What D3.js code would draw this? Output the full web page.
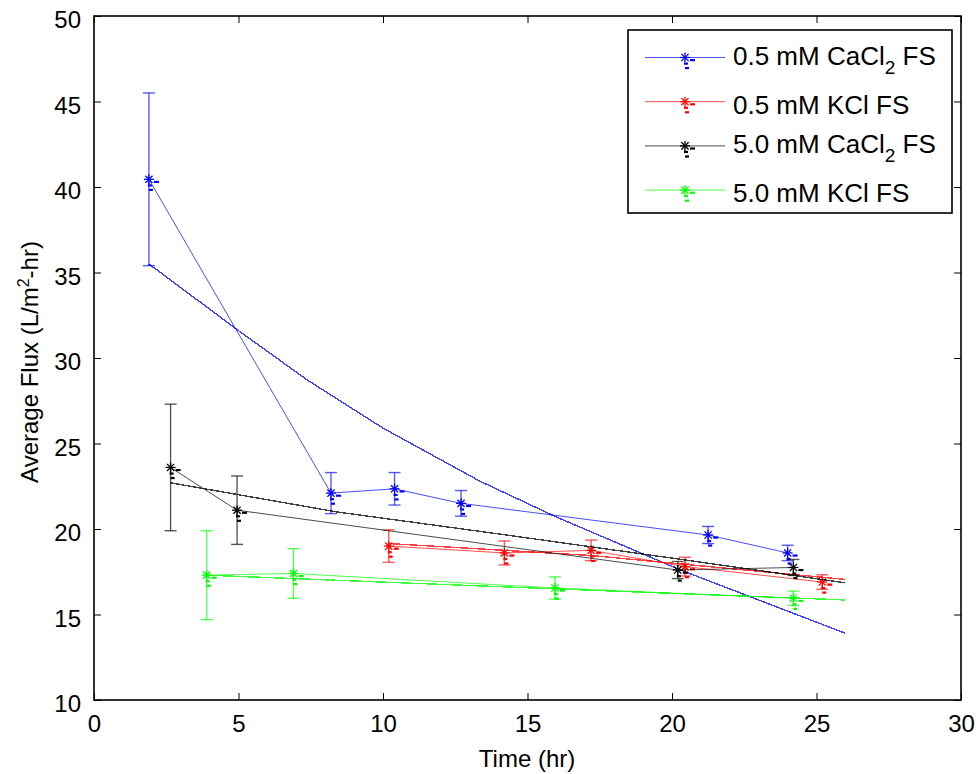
<!DOCTYPE html>
<html>
<head>
<meta charset="utf-8">
<script src="https://d3js.org/d3.v7.min.js"></script>
<style>
    body { margin: 0; background: #fff; }
    text { font-family: "Liberation Sans", Arial, sans-serif; fill: #000; }
</style>
</head>
<body>
<script>
    // data
    var labels = [["0.5 mM CaCl", "2", " FS"], ["0.5 mM KCl FS"], ["5.0 mM CaCl", "2", " FS"], ["5.0 mM KCl FS"]],
        colors = ["#0000ff", "#ff0000", "#000000", "#00ff00"];

    var xTicks = [0, 5, 10, 15, 20, 25, 30],
        yTicks = [10, 15, 20, 25, 30, 35, 40, 45, 50];

    // 0.5 mM CaCl2
    var timeCa05 = [1.9, 8.2, 10.4, 12.7, 21.25, 24.0],
        fluxCa05 = [40.45, 22.1, 22.35, 21.5, 19.65, 18.6],
        errCa05  = [5.05, 1.2, 0.95, 0.75, 0.5, 0.45],
        fitTimeCa05 = [1.9, 5, 7.35, 10, 13.35, 16, 20.3, 26],
        fitFluxCa05 = [35.5, 31.6, 28.75, 25.9, 22.8, 20.7, 17.6, 13.9];

    // 0.5 mM KCl
    var timeK05 = [10.2, 14.2, 17.2, 20.45, 25.2],
        fluxK05 = [19.0, 18.6, 18.75, 17.8, 16.9],
        errK05  = [0.95, 0.7, 0.6, 0.55, 0.42],
        fitTimeK05 = [10.2, 17.2, 26],
        fitFluxK05 = [19.15, 18.45, 17.05];

    // 5.0 mM CaCl2
    var timeCa50 = [2.65, 4.95, 20.2, 24.2],
        fluxCa50 = [23.6, 21.1, 17.6, 17.75],
        errCa50  = [3.7, 2.0, 0.5, 0.47],
        fitTimeCa50 = [2.65, 8.4, 14.05, 20.2, 26],
        fitFluxCa50 = [22.7, 21.0, 19.7, 18.25, 16.85];

    // 5.0 mM KCl
    var timeK50 = [3.9, 6.9, 15.95, 24.2],
        fluxK50 = [17.3, 17.4, 16.55, 15.95],
        errK50  = [2.6, 1.45, 0.65, 0.42],
        fitTimeK50 = [3.9, 15.95, 26],
        fitFluxK50 = [17.3, 16.5, 15.85];

    var series = [
        {t: timeCa05, f: fluxCa05, e: errCa05, ft: fitTimeCa05, ff: fitFluxCa05},
        {t: timeK05, f: fluxK05, e: errK05, ft: fitTimeK05, ff: fitFluxK05},
        {t: timeCa50, f: fluxCa50, e: errCa50, ft: fitTimeCa50, ff: fitFluxCa50},
        {t: timeK50, f: fluxK50, e: errK50, ft: fitTimeK50, ff: fitFluxK50}
    ];
</script>

<script>
    var w = 979, h = 774;

    var x = d3.scaleLinear().domain([0, 30]).range([94, 961]);
    var y = d3.scaleLinear().domain([10, 50]).range([700, 16]);

    var svg = d3.select("body").append("svg")
        .attr("width", w)
        .attr("height", h);

    // axes, ticks pointing inward like matlab
    var gx = svg.append("g").attr("transform", "translate(0,700)")
        .call(d3.axisBottom(x).tickValues(xTicks).tickSize(-7).tickPadding(15));
    var gxTop = svg.append("g").attr("transform", "translate(0,16)")
        .call(d3.axisTop(x).tickValues(xTicks).tickSize(-7).tickFormat(""));
    var gy = svg.append("g").attr("transform", "translate(94,0)")
        .call(d3.axisLeft(y).tickValues(yTicks).tickSize(-7).tickPadding(13));
    var gyRight = svg.append("g").attr("transform", "translate(961,0)")
        .call(d3.axisRight(y).tickValues(yTicks).tickSize(-7).tickFormat(""));

    [gx, gxTop, gy, gyRight].forEach(function(g) {
        g.select(".domain").remove();
        g.selectAll(".tick line").attr("stroke", "#000").attr("stroke-width", 1);
        g.selectAll(".tick text")
            .attr("font-size", 24)
            .attr("font-family", "Liberation Sans, Arial, sans-serif");
    });
    gy.selectAll(".tick text").attr("dy", "0.48em");

    svg.append("rect")
        .attr("x", 94).attr("y", 16)
        .attr("width", 961 - 94).attr("height", 700 - 16)
        .attr("fill", "none")
        .attr("stroke", "#000")
        .attr("stroke-width", 1.6);

    // axis titles
    svg.append("text")
        .attr("x", 527).attr("y", 767)
        .attr("text-anchor", "middle")
        .attr("font-size", 24)
        .text("Time (hr)");

    var yl = svg.append("text")
        .attr("transform", "translate(38,362) rotate(-90)")
        .attr("text-anchor", "middle")
        .attr("font-size", 24);
    yl.append("tspan").text("Average Flux (L/m");
    yl.append("tspan").attr("dy", -9).attr("font-size", 16).text("2");
    yl.append("tspan").attr("dy", 9).text("-hr)");

    // matlab style asterisk with the little dash artefacts
    function marker(g, cx, cy, col) {
        var m = g.append("g").attr("transform", "translate(" + cx + "," + cy + ")");
        var r = 5, d = 3.6;
        [[-r, 0, r, 0], [0, -r, 0, r], [-d, -d, d, d], [-d, d, d, -d]].forEach(function(s) {
            m.append("line")
                .attr("x1", s[0]).attr("y1", s[1]).attr("x2", s[2]).attr("y2", s[3])
                .attr("stroke", col).attr("stroke-width", 1.3);
        });
        [[5, 1.5, 5], [-1, 5, 4], [0, 9.5, 4]].forEach(function(s) {
            m.append("rect")
                .attr("x", s[0]).attr("y", s[1])
                .attr("width", s[2]).attr("height", 2.2)
                .attr("fill", col);
        });
    }

    var line = d3.line()
        .x(function(d) { return x(d[0]); })
        .y(function(d) { return y(d[1]); });

    var plot = svg.append("g");

    series.forEach(function(s, i) {
        var col = colors[i];
        var pts = s.t.map(function(t, j) { return [t, s.f[j], s.e[j]]; });

        // trend line
        plot.append("path")
            .datum(s.ft.map(function(t, j) { return [t, s.ff[j]]; }))
            .attr("d", line)
            .attr("fill", "none")
            .attr("stroke", col)
            .attr("stroke-width", 1.4)
            .attr("shape-rendering", "crispEdges")
            .attr("stroke-opacity", 0.75);

        // data line
        plot.append("path")
            .datum(pts)
            .attr("d", line)
            .attr("fill", "none")
            .attr("stroke", col)
            .attr("stroke-width", 1)
            .attr("stroke-opacity", 0.7);

        // error bars
        var eb = plot.selectAll(null).data(pts).enter().append("g")
            .attr("stroke", col)
            .attr("stroke-opacity", 0.65)
            .attr("stroke-width", 1.4);
        eb.append("line")
            .attr("x1", function(d) { return x(d[0]); })
            .attr("x2", function(d) { return x(d[0]); })
            .attr("y1", function(d) { return y(d[1] - d[2]); })
            .attr("y2", function(d) { return y(d[1] + d[2]); });
        [1, -1].forEach(function(sgn) {
            eb.append("line")
                .attr("x1", function(d) { return x(d[0]) - 6; })
                .attr("x2", function(d) { return x(d[0]) + 6; })
                .attr("y1", function(d) { return y(d[1] + sgn * d[2]); })
                .attr("y2", function(d) { return y(d[1] + sgn * d[2]); });
        });

        pts.forEach(function(d) { marker(plot, x(d[0]), y(d[1]), col); });
    });

    // legend
    var lg = svg.append("g");
    lg.append("rect")
        .attr("x", 628).attr("y", 30)
        .attr("width", 952 - 628).attr("height", 213 - 30)
        .attr("fill", "#fff")
        .attr("stroke", "#000")
        .attr("stroke-width", 1.6);

    labels.forEach(function(lab, i) {
        var ry = 57.5 + i * 44.2;
        lg.append("line")
            .attr("x1", 645).attr("x2", 725)
            .attr("y1", ry).attr("y2", ry)
            .attr("stroke", colors[i])
            .attr("stroke-opacity", 0.7)
            .attr("stroke-width", 1);
        marker(lg, 685, ry, colors[i]);
        var t = lg.append("text")
            .attr("x", 733)
            .attr("y", ry + (lab.length > 1 ? 7.5 : 12))
            .attr("font-size", 26);
        t.append("tspan").text(lab[0]);
        if (lab.length > 1) {
            t.append("tspan").attr("dy", 9).attr("font-size", 19).text(lab[1]);
            t.append("tspan").attr("dy", -9).text(lab[2]);
        }
    });
</script>
</body>
</html>
